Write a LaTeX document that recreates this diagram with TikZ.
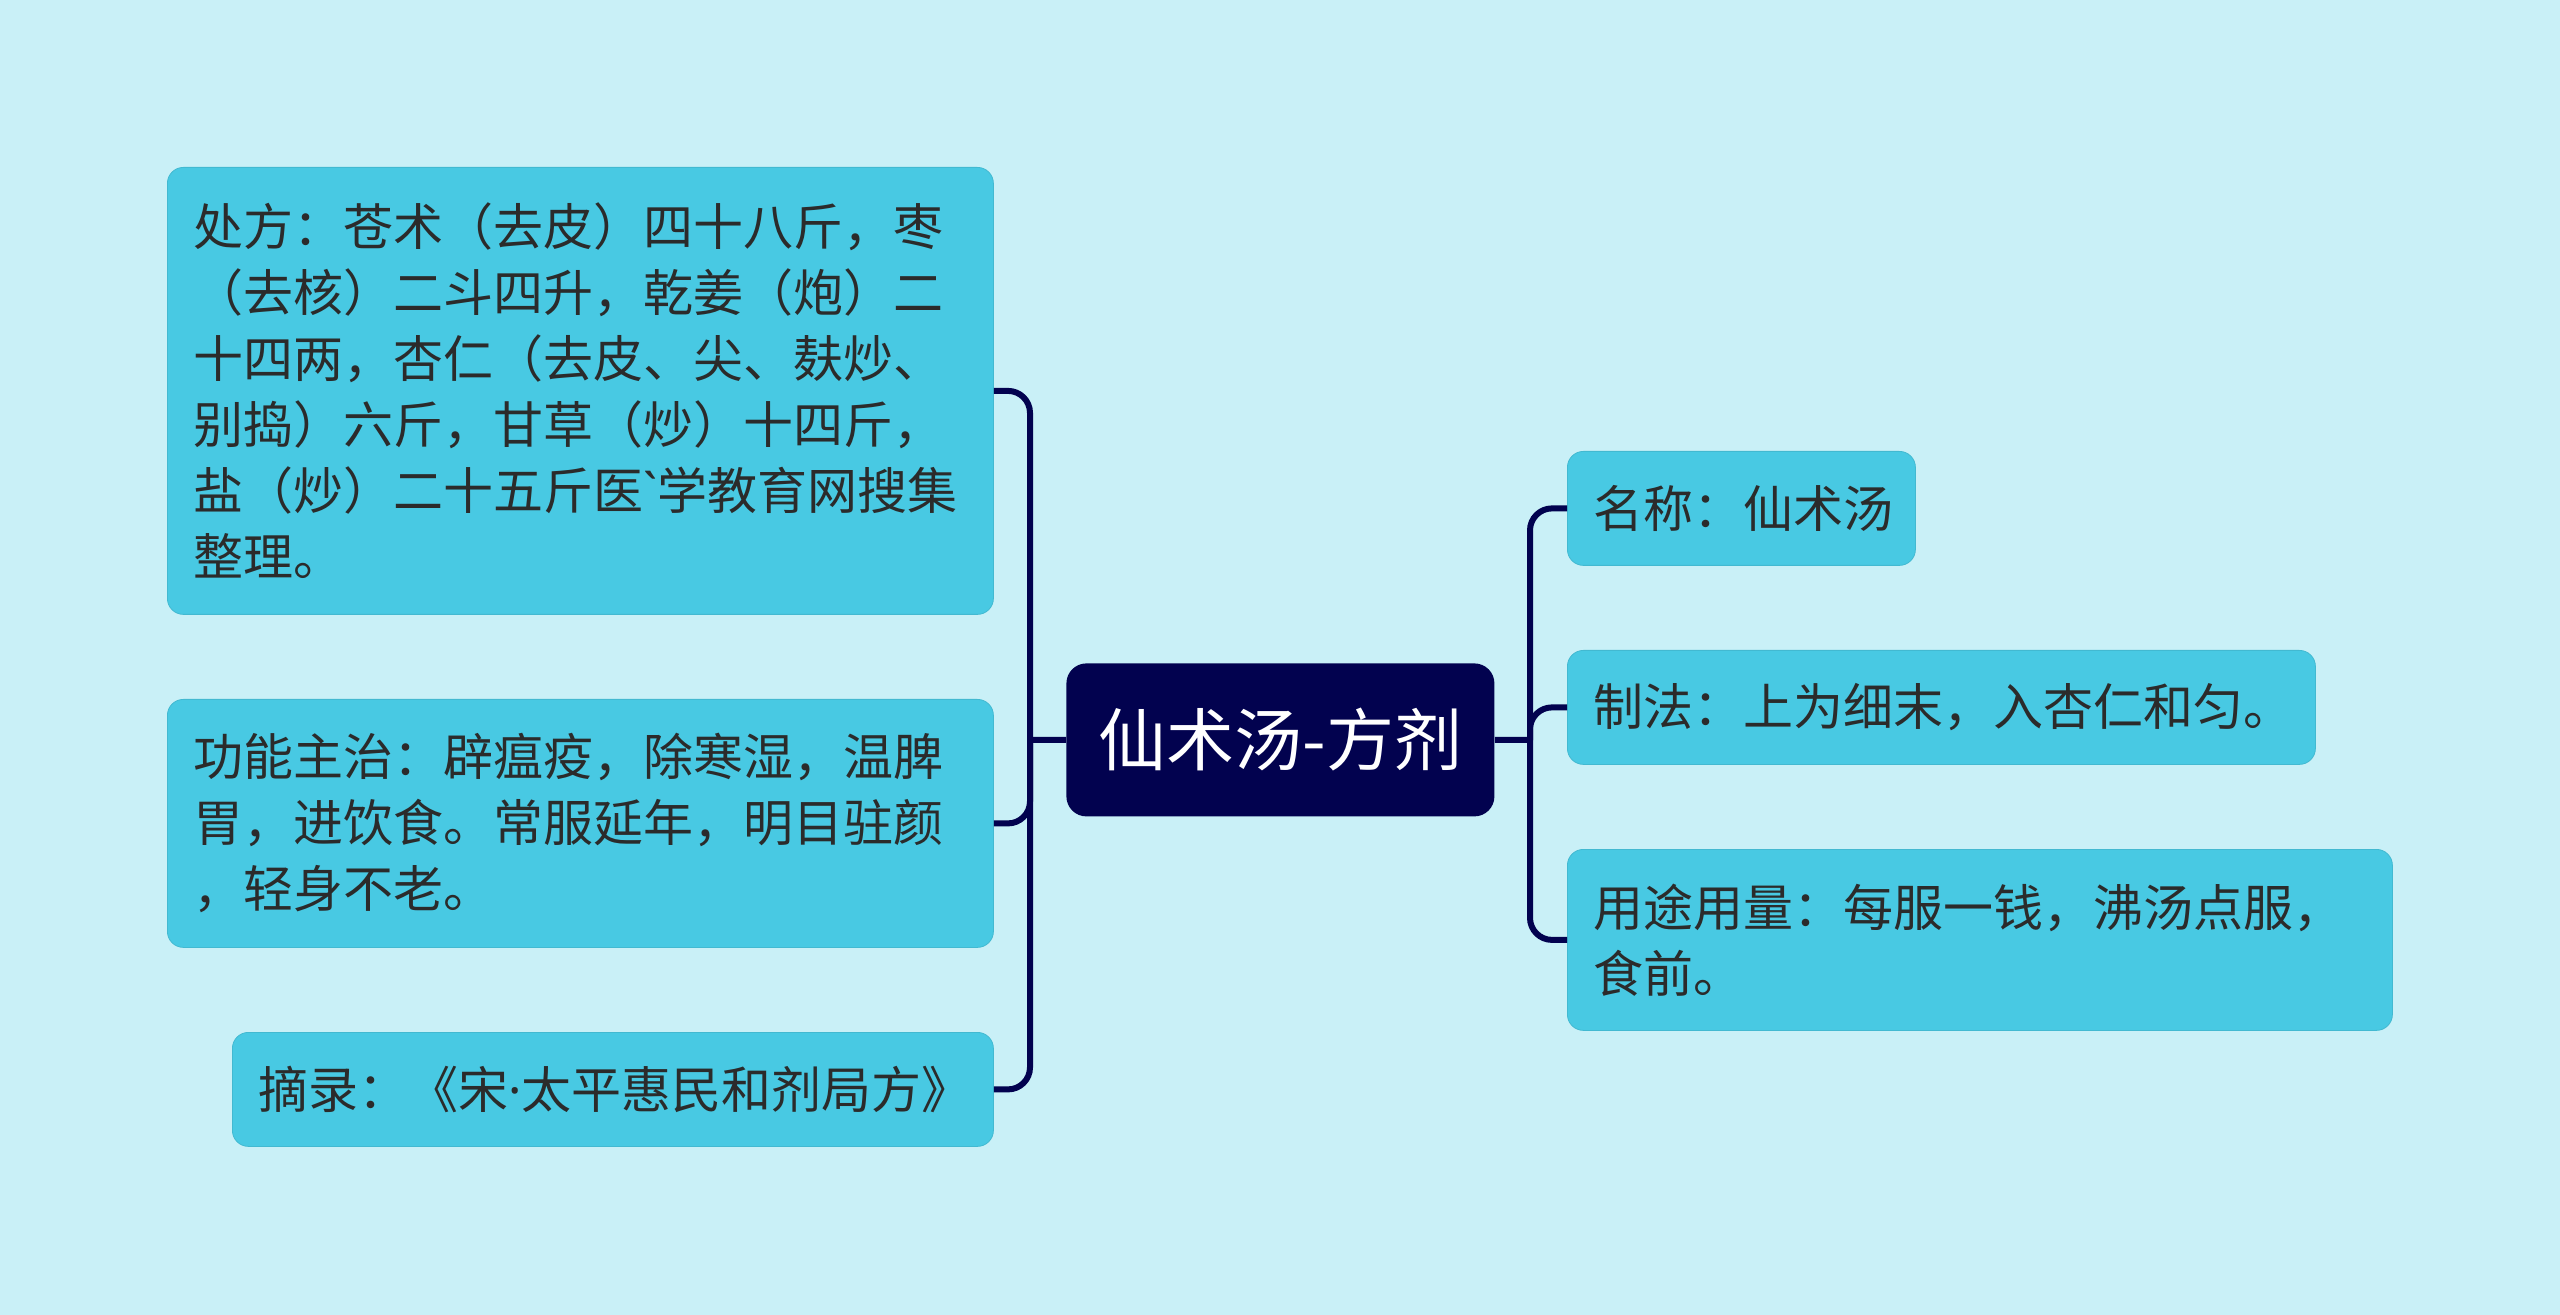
\documentclass[tikz,border=0pt]{standalone}
\usepackage{fontspec}
\setmainfont{Noto Sans CJK SC}
\newfontfamily\latinf{Noto Sans}
\definecolor{bgc}{HTML}{C9F0F7}
\definecolor{boxc}{HTML}{48C9E3}
\definecolor{navy}{HTML}{02024F}
\definecolor{txt}{HTML}{2B2B2B}
\begin{document}
\begin{tikzpicture}[x=0.5pt,y=-0.5pt,
  leaf/.style={draw=boxc!92!black,line width=0.4pt,fill=boxc,rounded corners=8pt,anchor=north west,
    inner xsep=13pt,inner ysep=0pt,align=left,text=txt,
    font=\fontsize{25pt}{33pt}\selectfont},
  rootbox/.style={fill=navy,rounded corners=10pt,anchor=north west,inner sep=0pt,
    text=white,align=center,font=\fontsize{34pt}{40pt}\selectfont},
  conn/.style={draw=navy,line width=3pt,rounded corners=11pt}]
\fill[bgc] (0,0) rectangle (2560,1315);
\useasboundingbox (0,0) rectangle (2560,1315);
% center
\node[rootbox,minimum width=214pt,minimum height=76.5pt] (c) at (1066,663) {仙术汤-方剂};
% left
\node[leaf,text width=387pt,minimum height=223.5pt] (b1) at (167,167)
 {处方：苍术（去皮）四十八斤，枣\\（去核）二斗四升，乾姜（炮）二\\十四两，杏仁（去皮、尖、麸炒、\\别捣）六斤，甘草（炒）十四斤，\\盐（炒）二十五斤医{\latinf\textasciigrave}学教育网搜集\\整理。};
\node[leaf,text width=387pt,minimum height=124pt] (b2) at (167,699)
 {功能主治：辟瘟疫，除寒湿，温脾\\胃，进饮食。常服延年，明目驻颜\\，轻身不老。};
\node[leaf,text width=354.5pt,minimum height=57pt] (b3) at (232,1032)
 {摘录：《宋{\latinf ·}太平惠民和剂局方》};
% right
\node[leaf,text width=148pt,minimum height=57pt] (r1) at (1567,451) {名称：仙术汤};
\node[leaf,text width=348pt,minimum height=57pt] (r2) at (1567,650) {制法：上为细末，入杏仁和匀。};
\node[leaf,text width=386.5pt,minimum height=90.5pt] (r3) at (1567,849)
 {用途用量：每服一钱，沸汤点服，\\食前。};
% connectors
\coordinate (lj) at (1030,740);
\coordinate (rj) at (1530,740);
\draw[conn] (c.west) -- (lj);
\draw[conn] (b1.east) -| (lj);
\draw[conn] (b2.east) -| (lj);
\draw[conn] (b3.east) -| (lj);
\draw[conn] (c.east) -- (rj);
\draw[conn] (r1.west) -| (rj);
\draw[conn] (r2.west) -| (rj);
\draw[conn] (r3.west) -| (rj);
\end{tikzpicture}
\end{document}
